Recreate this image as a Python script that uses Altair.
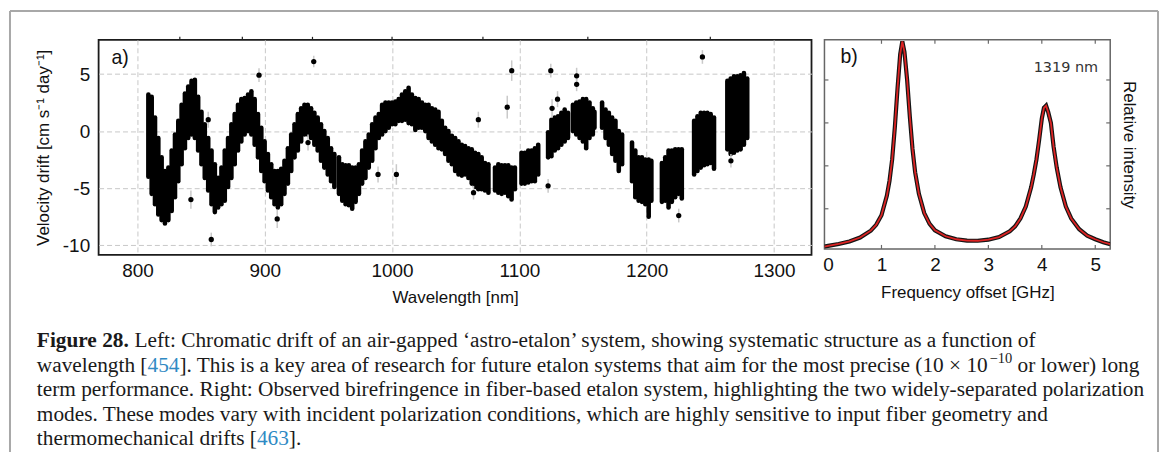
import altair as alt
import pandas as pd

# ---------------- Panel a) chromatic drift ----------------
# vertical extent of the dense point cloud at each measured wavelength [nm]
wl = [808.6, 811.2, 813.8, 816.4, 819.0, 821.6, 824.3, 826.9, 829.5, 832.1, 834.7, 837.3, 839.9,
      842.5, 845.1, 847.7, 850.3, 852.9, 855.6, 858.2, 860.8, 863.4, 866.0, 868.6, 871.2, 873.8,
      876.4, 879.0, 881.6, 884.2, 886.9, 889.5, 892.1, 894.7, 897.3, 899.9, 902.5, 905.1, 907.7,
      910.3, 912.9, 915.5, 918.2, 920.8, 923.4, 926.0, 928.6, 931.2, 933.8, 936.4, 939.0, 941.6,
      944.2, 946.8, 949.5, 952.1, 954.7, 958.3, 960.9, 963.5, 966.1, 968.7, 971.4, 974.0, 976.5,
      979.1, 981.7, 984.4, 987.0, 989.6, 992.2, 994.8, 997.4, 1000.0, 1002.6, 1005.2, 1007.8,
      1010.4, 1013.0, 1015.6, 1018.3, 1020.9, 1023.5, 1026.1, 1028.7, 1031.3, 1033.9, 1036.5,
      1039.1, 1041.7, 1044.3, 1047.0, 1049.6, 1052.2, 1054.8, 1057.4, 1060.0, 1062.6, 1065.2,
      1067.8, 1070.4, 1073.0, 1075.7, 1080.9, 1083.5, 1086.1, 1088.7, 1091.3, 1093.9, 1096.5,
      1101.7, 1104.3, 1107.0, 1109.6, 1112.2, 1114.8, 1122.6, 1125.2, 1127.8, 1130.4, 1133.0,
      1135.6, 1138.2, 1142.1, 1144.7, 1147.3, 1149.9, 1152.5, 1155.1, 1157.7, 1159.0, 1165.0,
      1167.7, 1170.3, 1172.9, 1175.5, 1178.1, 1180.7, 1188.5, 1191.1, 1193.7, 1196.3, 1199.0,
      1201.6, 1203.7, 1212.0, 1214.6, 1217.2, 1219.8, 1222.4, 1225.0, 1227.6, 1237.3, 1239.9,
      1242.5, 1245.1, 1247.7, 1250.3, 1252.9, 1263.4, 1266.0, 1268.6, 1271.2, 1273.8, 1276.4,
      1279.0]
drift_lo = [-4.0, -5.5, -6.4, -7.3, -7.8, -8.1, -7.8, -7.0, -5.8, -4.4, -2.9, -1.5, -0.6,
            -0.3, -0.6, -1.7, -2.9, -4.1, -5.2, -6.4, -7.1, -6.7, -6.4, -6.1, -4.9, -4.1,
            -2.9, -1.7, -0.9, -0.3, 0.0, -0.3, -1.2, -2.3, -3.5, -4.4, -5.2, -5.8, -6.4,
            -6.7, -6.4, -5.5, -4.6, -3.5, -2.3, -1.7, -0.9, -0.3, -0.3, -0.6, -1.2, -1.7,
            -2.6, -3.2, -3.8, -4.4, -4.9, -5.5, -6.1, -6.4, -6.5, -6.8, -6.2, -5.5, -4.6,
            -4.1, -3.2, -2.6, -1.5, -0.6, -0.3, 0.0, 0.3, 0.6, 0.6, 0.9, 0.9,
            1.0, 0.7, 0.6, 0.1, 0.3, 0.3, 0.0, -0.6, -0.9, -1.2, -1.5,
            -1.6, -2.0, -2.6, -2.9, -3.5, -3.8, -3.9, -3.8, -4.1, -4.6, -4.9,
            -5.1, -5.1, -5.2, -5.4, -5.2, -5.4, -5.5, -5.4, -5.7, -6.0, -5.1,
            -4.6, -4.6, -4.5, -4.4, -4.4, -3.8, -2.3, -2.2, -1.7, -1.5, -1.2,
            -0.9, -0.6, 0.0, -0.3, -0.6, -0.9, -1.5, -0.6, -0.3, 0.3, 0.3,
            -0.6, -1.2, -2.0, -2.6, -3.5, -2.9, -4.4, -5.8, -6.1, -6.2, -6.4,
            -7.5, -6.1, -6.2, -6.1, -6.7, -6.2, -5.8, -5.5, -5.9, -3.8, -3.5,
            -3.2, -3.0, -2.9, -2.8, -3.3, -1.6, -2.0, -1.9, -1.7, -1.6, -1.2,
            -0.6]
drift_hi = [3.2, 3.0, 1.2, -0.6, -2.3, -3.5, -3.2, -1.7, -0.3, 0.9, 2.3, 3.3, 3.9,
            4.4, 4.5, 3.0, 1.7, 0.6, -0.6, -1.7, -2.9, -4.1, -3.2, -1.7, -0.6, 0.6,
            1.5, 2.3, 2.8, 2.9, 3.2, 3.5, 2.8, 1.5, 0.3, -0.9, -2.0, -2.9, -3.5,
            -3.5, -3.3, -2.6, -1.5, -0.3, 0.6, 1.5, 2.0, 2.3, 2.3, 2.0, 1.6, 1.2,
            0.6, 0.0, -0.6, -1.5, -2.0, -2.3, -2.9, -3.0, -3.0, -3.2, -3.2, -2.9, -1.7,
            -0.9, -0.3, 0.6, 1.2, 1.5, 2.3, 2.5, 2.5, 2.5, 2.6, 2.8, 3.2,
            3.5, 3.8, 3.2, 2.9, 2.8, 2.5, 2.3, 2.3, 2.0, 1.9, 1.7,
            0.9, 0.3, 0.0, -0.4, -0.6, -0.9, -1.2, -1.3, -1.5, -1.6, -1.9,
            -2.0, -2.3, -2.8, -2.9, -3.2, -2.9, -3.0, -3.0, -3.0, -3.2, -3.2,
            -1.9, -1.9, -1.7, -1.7, -1.5, -1.2, -0.1, 1.0, 1.2, 1.3, 1.6,
            1.9, 1.6, 2.3, 2.5, 2.6, 2.8, 2.8, 2.5, 2.0, 1.7, 2.5,
            1.9, 1.6, 1.2, 0.9, 0.0, -0.3, -1.0, -1.7, -2.3, -2.3, -2.5,
            -2.5, -2.6, -2.8, -2.3, -1.7, -1.7, -1.6, -1.6, -1.6, 0.9, 1.3,
            1.6, 1.6, 1.6, 1.5, 1.2, 4.4, 4.6, 4.8, 4.8, 4.9, 5.1,
            4.6]

# isolated points with error bars
out_wl = [842.0, 855.6, 858.0, 895.5, 909.8, 934.0, 938.5, 989.0, 1003.4, 1064.0, 1067.8,
          1090.5, 1094.0, 1122.6, 1124.7, 1125.7, 1130.0, 1145.0, 1145.0, 1225.2, 1243.8, 1266.2]
out_v = [-6.0, 1.0, -9.5, 4.9, -7.7, -1.0, 6.1, -3.8, -3.8, -5.4, 1.0,
         2.1, 5.3, -4.8, 5.3, 2.0, 2.8, 4.85, 4.1, -7.4, 6.5, -2.6]
out_err = [0.8, 0.7, 0.6, 0.6, 0.8, 0.7, 0.5, 0.7, 0.9, 0.6, 0.7,
           1.0, 0.9, 0.6, 0.6, 0.8, 0.7, 0.7, 0.6, 0.6, 0.6, 0.6]

# wavelengths of the 360, 340, ... 240 THz ticks on the top frame
thz_tick_wl = [833.3, 882.4, 937.5, 1000.0, 1071.4, 1153.8, 1250.0]

# ---------------- Panel b) birefringence ----------------
freq = [-0.07, 0.0, 0.2, 0.4, 0.6, 0.8, 0.9, 1.0, 1.1, 1.15, 1.2, 1.25, 1.3, 1.35, 1.39, 1.43,
        1.48, 1.53, 1.58, 1.63, 1.7, 1.8, 1.9, 2.0, 2.2, 2.4, 2.6, 2.8, 3.0, 3.2, 3.4, 3.5, 3.6,
        3.7, 3.8, 3.85, 3.9, 3.95, 4.0, 4.04, 4.08, 4.12, 4.17, 4.22, 4.28, 4.35, 4.45, 4.55,
        4.7, 4.85, 5.0, 5.15, 5.28]
inten = [0.024, 0.027, 0.036, 0.048, 0.066, 0.098, 0.125, 0.17, 0.26, 0.33, 0.43, 0.58, 0.76,
         0.92, 0.98, 0.93, 0.80, 0.63, 0.48, 0.37, 0.27, 0.18, 0.13, 0.10, 0.072, 0.058, 0.052,
         0.051, 0.056, 0.068, 0.095, 0.118, 0.155, 0.21, 0.30, 0.36, 0.43, 0.52, 0.62, 0.67,
         0.68, 0.65, 0.60, 0.49, 0.39, 0.30, 0.21, 0.155, 0.105, 0.075, 0.058, 0.044, 0.035]
ghz_ticks = [1, 2, 3, 4, 5]
rel_ticks = [0.2, 0.4, 0.6, 0.8]

SANS = "Liberation Sans, Arial, Helvetica, sans-serif"
SERIF = "Liberation Serif, Times New Roman, serif"
BLUE = "#2f8ac4"
CAP = 21.4
LAB = 19
TIT = 17

WA, HA = 716, 216
WB, HB = 287, 210

band = pd.DataFrame({"wl": wl, "lo": drift_lo, "hi": drift_hi})
outl = pd.DataFrame({"wl": out_wl, "v": out_v, "err": out_err})
thz = pd.DataFrame({"wl": thz_tick_wl})
one = pd.DataFrame({"k": [0]})

xa_scale = alt.Scale(domain=[769.5, 1329.5], nice=False, zero=False)
ya_scale = alt.Scale(domain=[-10.85, 8.0], nice=False, zero=False)
xa_axis = alt.Axis(values=[800, 900, 1000, 1100, 1200, 1300], title="Wavelength [nm]",
                   labelExpr="'' + datum.value",
                   grid=True, gridDash=[5, 3], gridColor="#c8c8c8", gridWidth=1,
                   ticks=False, domain=False, labelFont=SANS, labelFontSize=LAB,
                   labelColor="#111", labelPadding=7, titleFont=SANS, titleFontSize=TIT,
                   titleFontWeight="normal", titleColor="#111", titlePadding=9)
ya_axis = alt.Axis(values=[-10, -5, 0, 5], title="Velocity drift [cm s⁻¹ day⁻¹]",
                   labelExpr="'' + datum.value",
                   grid=True, gridDash=[5, 3], gridColor="#c8c8c8", gridWidth=1,
                   ticks=False, domain=False, labelFont=SANS, labelFontSize=LAB,
                   labelColor="#111", labelPadding=9, titleFont=SANS, titleFontSize=TIT,
                   titleFontWeight="normal", titleColor="#111", titlePadding=10)

X_A = alt.X("wl:Q", scale=xa_scale, axis=xa_axis)

band_layer = alt.Chart(band).mark_rule(strokeWidth=4.6, strokeCap="round", color="#000").encode(
    x=X_A, y=alt.Y("lo:Q", scale=ya_scale, axis=ya_axis), y2="hi:Q")

err_layer = alt.Chart(outl).transform_calculate(
    elo="datum.v - datum.err", ehi="datum.v + datum.err"
).mark_rule(strokeWidth=1.5, color="#c9c9c9").encode(
    x=X_A, y=alt.Y("elo:Q", scale=ya_scale, axis=ya_axis), y2="ehi:Q")

pt_layer = alt.Chart(outl).mark_circle(size=28, color="#000", opacity=1).encode(
    x=X_A, y=alt.Y("v:Q", scale=ya_scale, axis=ya_axis))

thz_layer = alt.Chart(thz).mark_rule(color="#222", strokeWidth=1.2).encode(
    x=X_A, y=alt.value(-3), y2=alt.value(0))

def txt(s, x, y, size=19, font=SANS, color="#111", weight="normal", align="left",
        baseline="middle"):
    return alt.Chart(one).mark_text(text=s, font=font, fontSize=size, color=color,
                                    fontWeight=weight, align=align, baseline=baseline).encode(
        x=alt.value(x), y=alt.value(y))

label_a = txt("a)", 13, 18.5, 19.5)

# figure frame (relative to panel a origin)
FRAME = "#a8a8a8"
frame_top = alt.Chart(one).mark_rule(color=FRAME, strokeWidth=2).encode(
    x=alt.value(-89), x2=alt.value(1064), y=alt.value(-29))
frame_left = alt.Chart(one).mark_rule(color=FRAME, strokeWidth=2).encode(
    x=alt.value(-89), y=alt.value(-29), y2=alt.value(414))
frame_right = alt.Chart(one).mark_rule(color=FRAME, strokeWidth=2).encode(
    x=alt.value(1064), y=alt.value(-29), y2=alt.value(414))

# caption (page coords minus panel a origin 98,38)
X0 = 36 - 98
def cy(page_y):
    return page_y - 38

TXT = "#1a1a1a"
L = [347, 371.5, 396, 420.5, 445]
SUP = 0.68 * CAP
x_sup = X0 + 44.665 * CAP + 1
cap = [
    txt("Figure 28.", X0, cy(L[0]), CAP, SERIF, TXT, "bold", baseline="alphabetic"),
    txt("Left: Chromatic drift of an air-gapped ‘astro-etalon’ system, showing systematic structure as a function of",
        X0 + 4.583 * CAP, cy(L[0]), CAP, SERIF, TXT, baseline="alphabetic"),
    txt("wavelength [", X0, cy(L[1]), CAP, SERIF, TXT, baseline="alphabetic"),
    txt("454", X0 + 5.193 * CAP, cy(L[1]), CAP, SERIF, BLUE, baseline="alphabetic"),
    txt("]. This is a key area of research for future etalon systems that aim for the most precise (10 × 10",
        X0 + 6.693 * CAP, cy(L[1]), CAP, SERIF, TXT, baseline="alphabetic"),
    txt("−10", x_sup, cy(L[1]) - 0.4 * CAP, SUP, SERIF, TXT, baseline="alphabetic"),
    txt("or lower) long", x_sup + 1.564 * SUP + 0.25 * CAP, cy(L[1]), CAP, SERIF, TXT,
        baseline="alphabetic"),
    txt("term performance. Right: Observed birefringence in fiber-based etalon system, highlighting the two widely-separated polarization",
        X0, cy(L[2]), CAP, SERIF, TXT, baseline="alphabetic"),
    txt("modes. These modes vary with incident polarization conditions, which are highly sensitive to input fiber geometry and",
        X0, cy(L[3]), CAP, SERIF, TXT, baseline="alphabetic"),
    txt("thermomechanical drifts [", X0, cy(L[4]), CAP, SERIF, TXT, baseline="alphabetic"),
    txt("463", X0 + 10.326 * CAP, cy(L[4]), CAP, SERIF, BLUE, baseline="alphabetic"),
    txt("].", X0 + 11.826 * CAP, cy(L[4]), CAP, SERIF, TXT, baseline="alphabetic"),
]

panel_a = alt.layer(band_layer, err_layer, pt_layer, thz_layer, label_a,
                    frame_top, frame_left, frame_right, *cap).properties(
    width=WA, height=HA, view=alt.ViewBackground(stroke="#1b1b1b", strokeWidth=1.8))

# ---------------- panel b chart ----------------
spec = pd.DataFrame({"f": freq, "i": inten})
gt = pd.DataFrame({"f": ghz_ticks})
rt = pd.DataFrame({"i": rel_ticks})

xb_scale = alt.Scale(domain=[-0.067, 5.28], nice=False, zero=False)
yb_scale = alt.Scale(domain=[0.013, 0.987], nice=False, zero=False)
xb_axis = alt.Axis(values=[0, 1, 2, 3, 4, 5], title="Frequency offset [GHz]", grid=False,
                   ticks=False, domain=False, labelFont=SANS, labelFontSize=LAB,
                   labelColor="#111", labelPadding=7, titleFont=SANS, titleFontSize=TIT,
                   titleFontWeight="normal", titleColor="#111", titlePadding=10)
yb_axis = alt.Axis(orient="right", title="Relative intensity", labels=False, ticks=False,
                   domain=False, grid=False, titleAngle=90, titleFont=SANS,
                   titleFontSize=TIT, titleFontWeight="normal", titleColor="#111",
                   titlePadding=9)
X_B = alt.X("f:Q", scale=xb_scale, axis=xb_axis)
Y_B = alt.Y("i:Q", scale=yb_scale, axis=yb_axis)

data_line = alt.Chart(spec).mark_line(color="#151515", strokeWidth=4.2, clip=True).encode(x=X_B, y=Y_B)
fit_line = alt.Chart(spec).mark_line(color="#dc2323", strokeWidth=1.8, clip=True).encode(x=X_B, y=Y_B)
TK = "#6a6a6a"
t_top = alt.Chart(gt).mark_rule(color=TK, strokeWidth=1.2).encode(x=X_B, y=alt.value(0), y2=alt.value(4))
t_bot = alt.Chart(gt).mark_rule(color=TK, strokeWidth=1.2).encode(x=X_B, y=alt.value(HB - 4), y2=alt.value(HB))
t_left = alt.Chart(rt).mark_rule(color=TK, strokeWidth=1.2).encode(y=Y_B, x=alt.value(0), x2=alt.value(4))
t_right = alt.Chart(rt).mark_rule(color=TK, strokeWidth=1.2).encode(y=Y_B, x=alt.value(WB - 4), x2=alt.value(WB))
label_b = txt("b)", 16, 17.5, 19.5)
label_nm = txt("1319 nm", 242.5, 28.7, 14.5, "DejaVu Sans", "#333333", align="center")

panel_b = alt.layer(data_line, fit_line, t_top, t_bot, t_left, t_right, label_b, label_nm).properties(
    width=WB, height=HB, view=alt.ViewBackground(stroke="#666666", strokeWidth=1.5))

chart = alt.hconcat(panel_a, panel_b, spacing=13, bounds="flush").properties(
    padding=0, background="white")

chart.save("out.html", embed_options={"renderer": "svg", "actions": False})
